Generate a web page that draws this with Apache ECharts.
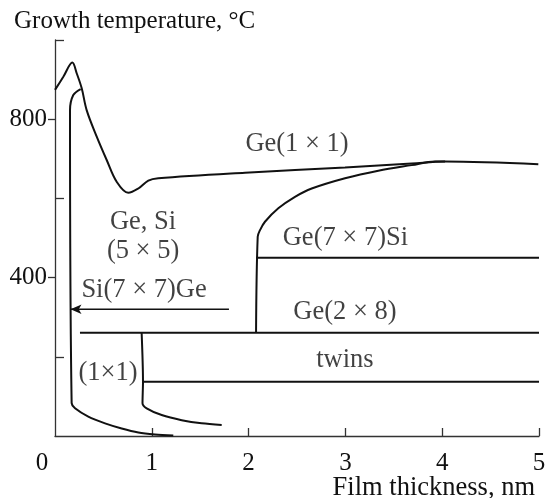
<!DOCTYPE html>
<html>
<head>
<meta charset="utf-8">
<script src="https://cdn.jsdelivr.net/npm/echarts@6/dist/echarts.min.js"></script>
<style>
html,body{margin:0;padding:0;background:#fff;}
#c{width:548px;height:498px;}
</style>
</head>
<body>
<div id="c"></div>
<script>
// ---- data (x: film thickness, nm; y: growth temperature, °C)
var xTicks = [0, 1, 2, 3, 4, 5];
var yLabelTicks = [400, 800];
var yMinorTicks = [200, 600, 1000];

// upper boundary: Ge(1x1)
var ge1x1 = [[0.0, 874], [0.086, 907], [0.179, 943], [0.224, 916], [0.276, 878], [0.327, 823], [0.431, 756],
  [0.534, 697], [0.637, 642], [0.757, 614], [0.861, 625], [0.964, 645], [1.067, 651], [1.963, 665],
  [2.996, 678], [3.685, 688], [4.03, 693], [4.993, 686]];
// Ge,Si (5x5) boundary (inner curve rising from bottom then merging)
var geSi5x5 = [[1.222, 1], [1.033, 4], [0.861, 9], [0.689, 19], [0.517, 32], [0.344, 49], [0.207, 70],
  [0.172, 83], [0.155, 823], [0.189, 861], [0.265, 876]];
// (1x1) / twins boundary
var twinsBoundary = [[0.895, 261], [0.909, 137], [0.904, 83], [0.947, 70], [1.102, 53], [1.309, 40],
  [1.515, 32], [1.722, 28]];
// Ge(7x7)Si boundary
var ge7x7Si = [[2.077, 261], [2.094, 503], [2.118, 520], [2.169, 541], [2.307, 575], [2.479, 604],
  [2.652, 625], [2.996, 651], [3.34, 670], [3.685, 684], [3.926, 693], [4.03, 693]];
// horizontal boundaries
var ge7x7SiLine = [[2.077, 450], [5, 450]];
var ge2x8Line = [[0.258, 261], [5, 261]];
var twinsLine = [[0.909, 137], [5, 137]];
var si7x7GeArrow = [[1.797, 320], [0.16, 320]];
// region labels [x, y, text]
var regionLabels = [
  [2.5, 737, 'Ge(1 × 1)'],
  [0.91, 541, 'Ge, Si'],
  [0.91, 466, '(5 × 5)'],
  [0.92, 369, 'Si(7 × 7)Ge'],
  [3.0, 499, 'Ge(7 × 7)Si'],
  [2.995, 313, 'Ge(2 × 8)'],
  [2.995, 192, 'twins'],
  [0.548, 158, '(1×1)']
];

var FONT = "'Liberation Serif','Times New Roman',serif";
var INK = '#111';
var chart = echarts.init(document.getElementById('c'), null, {renderer: 'canvas'});

function lineSeries(name, data, smooth) {
  return {
    name: name, type: 'line', data: data, smooth: smooth, showSymbol: false, symbol: 'none',
    lineStyle: {color: INK, width: 2}, silent: true, z: 3, animation: false
  };
}

var arrowData = si7x7GeArrow.map(function (p, i) {
  return i === 1 ? {value: p, symbol: 'arrow', symbolSize: [7, 11], symbolRotate: 90,
    itemStyle: {color: INK}} : {value: p, symbol: 'none'};
});

var option = {
  animation: false,
  backgroundColor: '#fff',
  title: [
    {text: 'Growth temperature, °C', left: 9, top: 4,
      textStyle: {fontFamily: FONT, fontSize: 25, fontWeight: 'normal', color: INK}},
    {text: 'Film thickness, nm', right: 8, top: 470,
      textStyle: {fontFamily: FONT, fontSize: 26.5, fontWeight: 'normal', color: INK}}
  ],
  grid: {left: 55, right: 9, top: 40, bottom: 62, outerBoundsMode: 'none'},
  xAxis: {
    type: 'value', min: 0, max: 5, interval: 1,
    axisLine: {show: true, lineStyle: {color: '#333', width: 1.3}},
    axisTick: {show: true, inside: true, length: 8, customValues: [1, 2, 3, 4, 5],
      lineStyle: {color: '#333', width: 1.3}},
    splitLine: {show: false},
    axisLabel: {
      fontFamily: FONT, fontSize: 25, color: INK, margin: 15, customValues: xTicks,
      formatter: function (v) { return v === 0 ? '{z|0}' : String(v); },
      rich: {z: {fontFamily: FONT, fontSize: 25, color: INK, padding: [0, 26, 0, 0]}}
    }
  },
  yAxis: [
    {
      type: 'value', min: 0, max: 1000, interval: 200, position: 'left',
      axisLine: {show: true, lineStyle: {color: '#333', width: 1.3}},
      axisTick: {show: true, inside: false, length: 7, customValues: yLabelTicks,
        lineStyle: {color: '#333', width: 1.3}},
      axisLabel: {fontFamily: FONT, fontSize: 25, color: INK, margin: 8, customValues: yLabelTicks},
      splitLine: {show: false}
    },
    {
      type: 'value', min: 0, max: 1000, interval: 200, position: 'left', offset: 0,
      axisLine: {show: false},
      axisTick: {show: true, inside: true, length: 9, customValues: yMinorTicks,
        lineStyle: {color: '#333', width: 1.3}},
      axisLabel: {show: false},
      splitLine: {show: false}
    }
  ],
  series: [
    lineSeries('Ge(1×1)', ge1x1, 0.35),
    lineSeries('Ge,Si(5×5)', geSi5x5, 0.3),
    lineSeries('(1×1)/twins', twinsBoundary, 0.3),
    lineSeries('Ge(7×7)Si', ge7x7Si, 0.35),
    lineSeries('Ge(7×7)Si level', ge7x7SiLine, false),
    lineSeries('Ge(2×8)', ge2x8Line, false),
    lineSeries('twins', twinsLine, false),
    {
      name: 'Si(7×7)Ge', type: 'line', data: arrowData, showSymbol: true, silent: true,
      lineStyle: {color: INK, width: 1.5}, z: 4, animation: false
    },
    {
      name: 'labels', type: 'scatter', symbolSize: 0, silent: true, z: 5,
      data: regionLabels.map(function (r) { return {value: [r[0], r[1]], name: r[2]}; }),
      label: {show: true, position: 'inside', formatter: function (p) { return p.name; },
        fontFamily: FONT, fontSize: 26.5, color: INK}
    }
  ]
};
chart.setOption(option);
</script>
</body>
</html>
